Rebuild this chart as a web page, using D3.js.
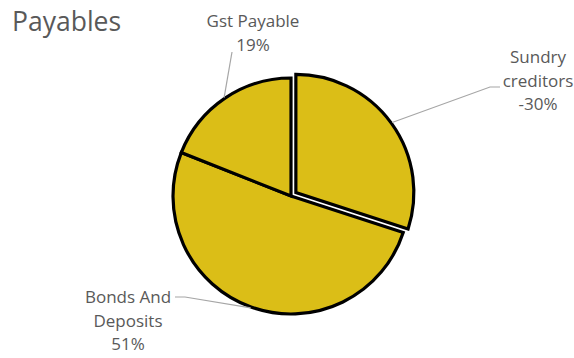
<!DOCTYPE html>
<head>
    <meta charset=utf-8>
    <title>Payables</title>
    <script src="https://d3js.org/d3.v7.min.js"></script>
    <style>
        body { margin: 0; background: #ffffff; }
        text {
            font-family: "Open Sans", "Liberation Sans", sans-serif;
            fill: #595959;
        }
    </style>
</head>
<body>
    <div id="chart"></div>
    <script type="text/javascript">
        // data (percent of total payables)
        var categories = ["Sundry creditors", "Bonds And Deposits", "Gst Payable"],
            values = [-30, 51, 19],
            labelLines = [["Sundry", "creditors"], ["Bonds And", "Deposits"], ["Gst Payable"]],
            exploded = [true, false, false];

        var svg_dx = 574,
            svg_dy = 358,
            cx = 291, cy = 196,
            radius = 118,
            explode = 6;

        // label layout: text centre x, first baseline, leader polyline end (elbow + tip)
        var labelPos = [
            {x: 538, y: 63, pts: [[490, 87], [500, 87]]},
            {x: 128, y: 303, pts: [[185, 297], [175, 297]]},
            {x: 253, y: 27, pts: [[232, 52]]}
        ];

        var svg = d3.select("#chart")
                .append("svg")
                .attr("width", svg_dx)
                .attr("height", svg_dy);

        svg.append("text")
            .attr("x", 12)
            .attr("y", 31)
            .style("font-size", "26.5px")
            .text("Payables");

        var pie = d3.pie()
            .value(function(d, i) { return Math.abs(d); })
            .sort(null);

        var arcs = pie(values);

        var arc = d3.arc()
            .innerRadius(0)
            .outerRadius(radius);

        var g = svg.append("g")
            .attr("transform", "translate(" + cx + "," + cy + ")");

        function offset(d, i) {
            if (!exploded[i]) return [0, 0];
            var a = (d.startAngle + d.endAngle) / 2;
            return [Math.sin(a) * explode, -Math.cos(a) * explode];
        }

        g.selectAll("path")
            .data(arcs)
            .enter()
            .append("path")
            .attr("d", arc)
            .attr("transform", function(d, i) {
                var o = offset(d, i);
                return "translate(" + o[0] + "," + o[1] + ")";
            })
            .attr("fill", "#dbbe17")
            .attr("stroke", "#000000")
            .attr("stroke-width", 3.2)
            .attr("stroke-linejoin", "miter");

        // leader lines
        var line = d3.line();
        arcs.forEach(function(d, i) {
            var a = (d.startAngle + d.endAngle) / 2,
                o = offset(d, i),
                r = radius + 1;
            var start = [cx + o[0] + Math.sin(a) * r, cy + o[1] - Math.cos(a) * r];
            svg.append("path")
                .attr("d", line([start].concat(labelPos[i].pts)))
                .attr("fill", "none")
                .attr("stroke", "#a6a6a6")
                .attr("stroke-width", 1.2);

            var t = svg.append("text")
                .attr("text-anchor", "middle")
                .style("font-size", "17px");
            labelLines[i].concat([values[i] + "%"]).forEach(function(s, k) {
                t.append("tspan")
                    .attr("x", labelPos[i].x)
                    .attr("y", labelPos[i].y + k * 23.5)
                    .text(s);
            });
        });
    </script>
</body>
